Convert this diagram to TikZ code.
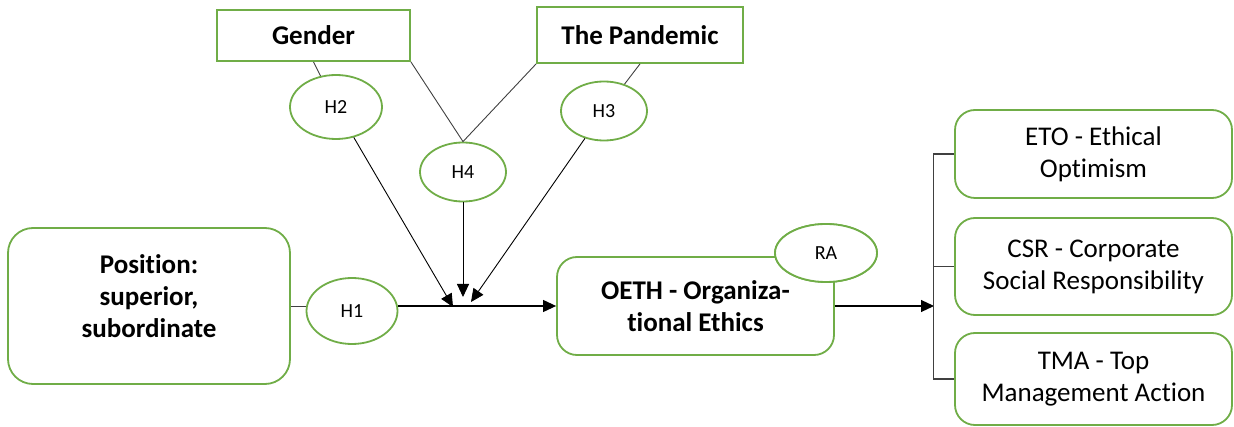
\documentclass[tikz,border=0pt]{standalone}
\usepackage{fontspec}
\setmainfont[Ligatures=NoCommon]{Carlito}
\usetikzlibrary{shapes.geometric,arrows.meta}
\definecolor{ogreen}{RGB}{112,173,71}
\begin{document}
\begin{tikzpicture}[x=1pt,y=-1pt,
  gbox/.style={draw=ogreen,line width=1.8pt,fill=white,align=center,inner sep=0pt,text=black},
  rbox/.style={gbox,rounded corners=20pt},
  hyp/.style={ellipse,draw=ogreen,line width=1.8pt,fill=white,inner sep=0pt,font=\fontsize{20}{24}\selectfont},
  big/.style={font=\fontsize{27}{32}\selectfont\bfseries},
  reg/.style={font=\fontsize{27}{32}\selectfont},
  conn/.style={draw=black!75,line width=0.9pt},
  arr/.style={draw=black,line width=1.1pt,-{Triangle[length=13pt,width=12pt]}}]
\useasboundingbox (0,0) rectangle (1234,427);
% top factors
\node[gbox,big,minimum width=193pt,minimum height=51pt] (gender) at (313.5,35.5) {Gender};
\node[gbox,big,minimum width=206pt,minimum height=56pt] (pand) at (640,35) {The Pandemic};
% hypotheses
\node[hyp,minimum width=92pt,minimum height=64pt] (H2) at (336,107) {H2};
\node[hyp,minimum width=86pt,minimum height=59pt] (H4) at (463,172) {H4};
\node[hyp,minimum width=86pt,minimum height=59pt] (H3) at (604,111) {H3};
% main row
\node[rbox,big,rounded corners=25pt,minimum width=282pt,minimum height=156pt] (pos) at (149,306) {Position:\\superior,\\subordinate\\[-12pt]\mbox{}};
\node[hyp,minimum width=91pt,minimum height=66pt] (H1) at (352,311) {H1};
\node[rbox,big,minimum width=277pt,minimum height=98pt] (oeth) at (695.5,306) {OETH - Organiza-\\tional Ethics};
\node[hyp,minimum width=102pt,minimum height=58pt] (RA) at (826,253) {RA};
% outcomes
\node[rbox,reg,minimum width=277pt,minimum height=88pt] (eto) at (1093.5,154) {ETO - Ethical\\Optimism};
\node[rbox,reg,minimum width=277pt,minimum height=97pt] (csr) at (1093.5,266.5) {CSR - Corporate\\Social Responsibility};
\node[rbox,reg,minimum width=277pt,minimum height=92pt] (tma) at (1093.5,379) {TMA - Top\\Management Action};
% arrow end points
\coordinate (t2) at (453,307);
\coordinate (t4) at (463,297);
\coordinate (t3) at (471,302);
\coordinate (br) at (934,306);
% connectors from factors to hypotheses
\draw[conn] (gender.south) -- (H2);
\draw[conn] (gender.south east) -- (H4.north);
\draw[conn] (pand.south west) -- (H4.north);
\draw[conn] (pand.south) -- (H3);
\draw[arr,line width=0.9pt] (H2) -- (t2);
\draw[arr,line width=0.9pt] (H4) -- (t4);
\draw[arr,line width=0.9pt] (H3) -- (t3);
% main path
\draw[conn] (pos.east) -- (pos.east -| H1.west);
\draw[arr] (H1.east |- oeth.west) -- (oeth.west);
\draw[arr] (oeth.east) -- (br);
% bracket
\draw[conn,line width=1.1pt] (eto.west) -- ++(-21,0) |- (tma.west);
\draw[conn,line width=1.1pt] (csr.west) -- ++(-21,0);
% RA on top of box
\node[hyp,minimum width=102pt,minimum height=58pt] at (RA) {RA};
\end{tikzpicture}
\end{document}
